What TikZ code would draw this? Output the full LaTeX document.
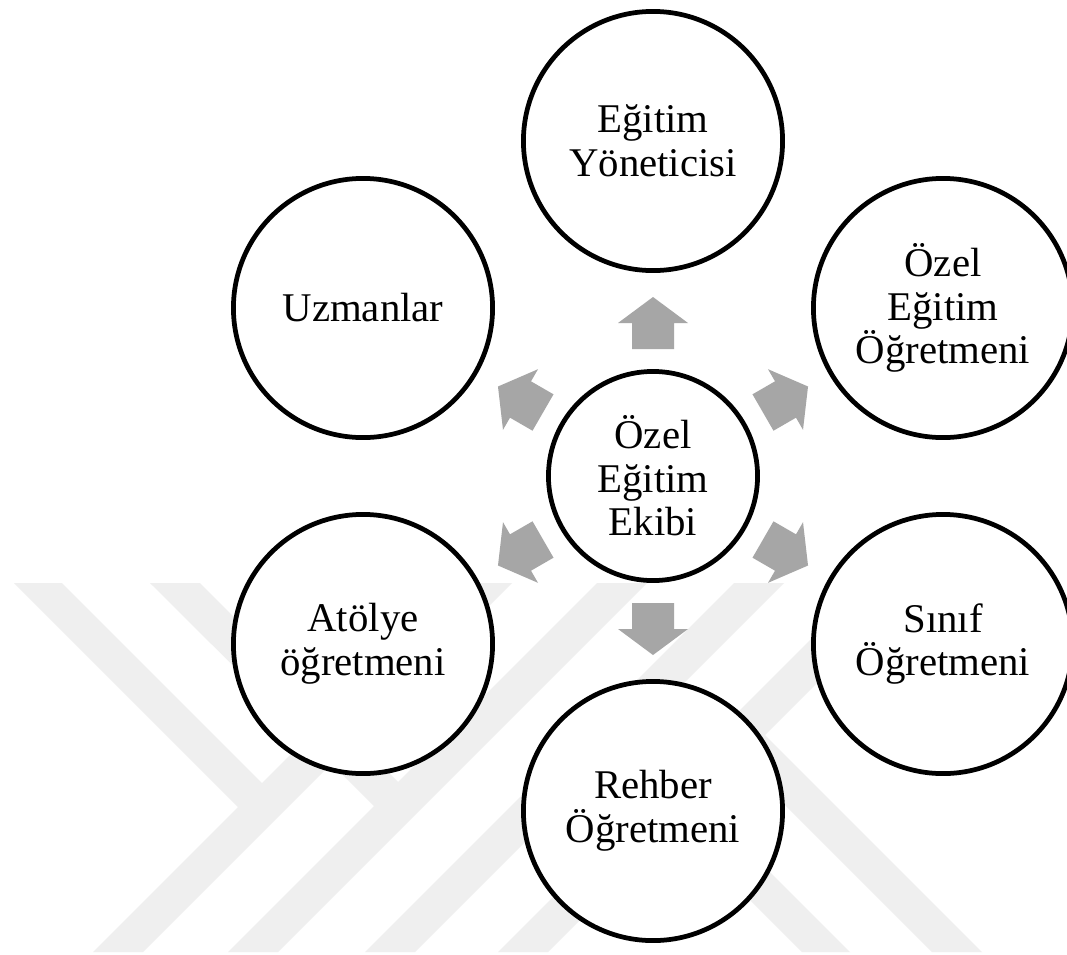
\documentclass[tikz,border=0pt]{standalone}
\usepackage{fontspec}
\setmainfont{Liberation Serif}
\usepackage{tikz}

\definecolor{arrowgray}{RGB}{166,166,166}
\definecolor{wmgray}{RGB}{239,239,239}

\tikzset{
  member/.style={circle, draw, line width=1.35pt, fill=white, minimum size=2.59cm,
    inner sep=0pt, align=center, font=\fontsize{11.6}{12.4}\selectfont},
  hubnode/.style={member, minimum size=2.09cm},
  blkarrow/.style={fill=arrowgray},
  wmark/.style={fill=wmgray}
}

\begin{document}
\begin{tikzpicture}[x=0.01cm, y=-0.01cm, line join=round]
  \useasboundingbox[fill=white] (0,0) rectangle (1067,954);

  % Watermark stripes
  \foreach \s in {1045,1180,1317,1450}
    \fill[wmark] ({\s-583},583) -- ({\s+50-583},583) -- ({\s+50-952},952) -- ({\s-952},952) -- cycle;
  \fill[wmark] (14,583) -- (62,583) -- (275,796) -- (251,820) -- cycle;
  \fill[wmark] (150,583) -- (200,583) -- (410,794) -- (386,818) -- cycle;
  \fill[wmark] (596,746) -- (620,722) -- (850,952) -- (802,952) -- cycle;
  \fill[wmark] (728,748) -- (753,723) -- (982,952) -- (932,952) -- cycle;

  % Centres
  \coordinate (H) at (653,476);
  \coordinate (P1) at (653,141);
  \coordinate (P2) at (943,308);
  \coordinate (P3) at (943,644);
  \coordinate (P4) at (653,811);
  \coordinate (P5) at (363,644);
  \coordinate (P6) at (363,308);

  \node[hubnode] (hub) at (H) {Özel\\Eğitim\\Ekibi};
  \node[member] (edu) at (P1) {Eğitim\\Yöneticisi};
  \node[member] (spe) at (P2) {Özel\\Eğitim\\Öğretmeni};
  \node[member] (cls) at (P3) {Sınıf\\Öğretmeni};
  \node[member] (gui) at (P4) {Rehber\\Öğretmeni};
  \node[member] (wrk) at (P5) {Atölye\\öğretmeni};
  \node[member] (exp) at (P6) {Uzmanlar};

  % Block arrows from the hub
  \foreach \a in {90,30,-30,-90,210,150}
    \fill[blkarrow, shift={(hub.center)}, rotate=\a]
      (127,-21) -- (153,-21) -- (153,-35) -- (179,0) -- (153,35) -- (153,21) -- (127,21) -- cycle;

\end{tikzpicture}
\end{document}
